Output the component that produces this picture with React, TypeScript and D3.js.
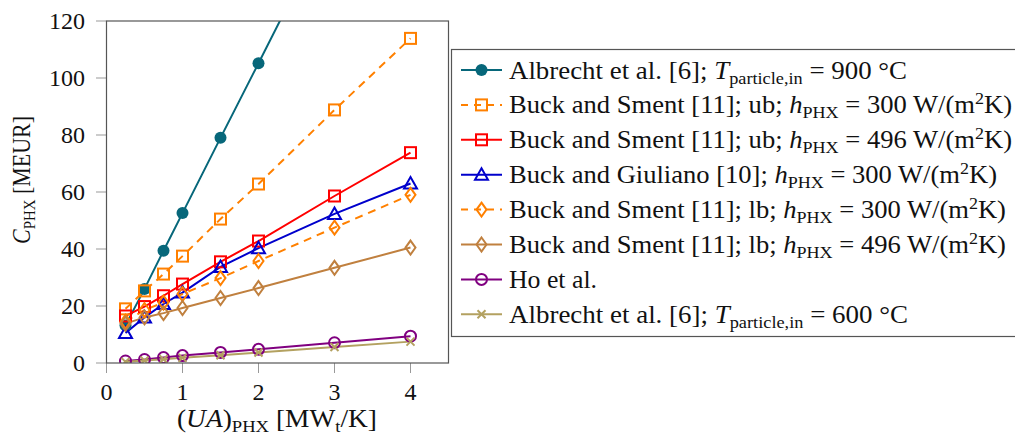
import React from 'react';
import * as d3 from 'd3';

// UA values (MW_t/K) shared by every series
const uaValues = [0.25, 0.5, 0.75, 1, 1.5, 2, 3, 4];

// cost of the PHX in MEUR
const albrecht900 = [13.2, 26, 39.4, 52.6, 79, 105.2, 157.8, 210.4];
const smentUb300 = [19, 25.3, 31.2, 37.5, 50.5, 62.8, 88.8, 113.9];
const smentUb496 = [16.5, 19.8, 23.6, 27.7, 35.5, 42.8, 58.6, 73.8];
const giuliano300 = [10.5, 16, 20.7, 24.7, 33.7, 40.3, 52.3, 63];
const smentLb300 = [14.5, 18.6, 21.2, 24.2, 29.8, 35.8, 47.5, 59];
const smentLb496 = [13.8, 16, 17.5, 19.3, 22.8, 26.3, 33.4, 40.5];
const hoEtAl = [0.7, 1.2, 1.9, 2.6, 3.7, 4.8, 7.1, 9.4];
const albrecht600 = [0.4, 0.9, 1.3, 1.8, 2.7, 3.7, 5.6, 7.5];

const xTicks = [0, 1, 2, 3, 4];
const yTicks = [0, 20, 40, 60, 80, 100, 120];

type Part = { t: string; it?: boolean; sub?: boolean; sup?: boolean };

const hLabel = (ref: string, val: string): Part[] => [
  { t: ref },
  { t: 'h', it: true },
  { t: 'PHX', sub: true },
  { t: ` = ${val} W/(m` },
  { t: '2', sup: true },
  { t: 'K)' },
];

const series = [
  { name: 'a900', values: albrecht900, color: '#07677a', dash: '', marker: 'dot',
    label: [{ t: 'Albrecht et al. [6]; ' }, { t: 'T', it: true }, { t: 'particle,in', sub: true }, { t: ' = 900 °C' }], len: 398 },
  { name: 'ub300', values: smentUb300, color: '#ff8000', dash: '8,6', marker: 'square',
    label: hLabel('Buck and Sment [11]; ub; ', '300'), len: 503 },
  { name: 'ub496', values: smentUb496, color: '#ff0000', dash: '', marker: 'square',
    label: hLabel('Buck and Sment [11]; ub; ', '496'), len: 503 },
  { name: 'g300', values: giuliano300, color: '#0000cc', dash: '', marker: 'triangle',
    label: hLabel('Buck and Giuliano [10]; ', '300'), len: 488 },
  { name: 'lb300', values: smentLb300, color: '#ff8000', dash: '8,6', marker: 'diamond',
    label: hLabel('Buck and Sment [11]; lb; ', '300'), len: 497 },
  { name: 'lb496', values: smentLb496, color: '#c0803f', dash: '', marker: 'diamond',
    label: hLabel('Buck and Sment [11]; lb; ', '496'), len: 497 },
  { name: 'ho', values: hoEtAl, color: '#800080', dash: '', marker: 'ocircle',
    label: [{ t: 'Ho et al.' }], len: 88 },
  { name: 'a600', values: albrecht600, color: '#b3a160', dash: '', marker: 'x',
    label: [{ t: 'Albrecht et al. [6]; ' }, { t: 'T', it: true }, { t: 'particle,in', sub: true }, { t: ' = 600 °C' }], len: 399 },
];

const Marker = ({ kind, x, y, color }: { kind: string; x: number; y: number; color: string }) => {
  const sw = 2;
  if (kind === 'dot') return <circle cx={x} cy={y} r={6} fill={color} />;
  if (kind === 'square')
    return <rect x={x - 5.5} y={y - 5.5} width={11} height={11} fill="none" stroke={color} strokeWidth={sw} />;
  if (kind === 'triangle')
    return <path d={`M${x},${y - 6.5}L${x + 6.5},${y + 5}L${x - 6.5},${y + 5}Z`} fill="none" stroke={color} strokeWidth={sw} />;
  if (kind === 'diamond')
    return <path d={`M${x},${y - 7}L${x + 5},${y}L${x},${y + 7}L${x - 5},${y}Z`} fill="none" stroke={color} strokeWidth={sw} />;
  if (kind === 'ocircle')
    return <circle cx={x} cy={y} r={5.5} fill="none" stroke={color} strokeWidth={sw} />;
  return (
    <path d={`M${x - 4},${y - 4}L${x + 4},${y + 4}M${x - 4},${y + 4}L${x + 4},${y - 4}`}
      stroke={color} strokeWidth={sw} />
  );
};

const RichText = ({ parts, size }: { parts: Part[]; size: number }) => {
  let shift = 0;
  return (
    <>
      {parts.map((p, i) => {
        const target = p.sub ? 5 : p.sup ? -9 : 0;
        const dy = target - shift;
        shift = target;
        return (
          <tspan key={i} dy={dy} fontStyle={p.it ? 'italic' : 'normal'}
            fontSize={p.sub || p.sup ? size * 0.68 : size}>
            {p.t}
          </tspan>
        );
      })}
    </>
  );
};

export default function App() {
  const width = 1015;
  const height = 437;
  const x = d3.scaleLinear().domain([0, 4.5]).range([106.5, 448.5]);
  const y = d3.scaleLinear().domain([0, 120]).range([363, 21]);

  const line = d3.line<number>()
    .x((_, i) => x(uaValues[i]))
    .y(d => y(d));

  const legendX = 451.5;
  const legendY = 49.5;
  const rowH = 34.9;

  return (
    <svg width={width} height={height} fontFamily="Liberation Serif" fill="#111"
      style={{ position: 'absolute', left: 0, top: 0, background: '#fff' }}>
      <defs>
        <clipPath id="plotClip">
          <rect x={106.5} y={21} width={342} height={342} />
        </clipPath>
      </defs>

      {/* ticks */}
      {xTicks.map(t => (
        <g key={'x' + t}>
          <line x1={x(t)} x2={x(t)} y1={363} y2={373} stroke="#999" strokeWidth={1} />
          <text x={x(t)} y={400} textAnchor="middle" fontSize={24}>{t}</text>
        </g>
      ))}
      {yTicks.map(t => (
        <g key={'y' + t}>
          <line x1={96} x2={106.5} y1={y(t)} y2={y(t)} stroke="#999" strokeWidth={1} />
          <text x={85} y={y(t) + 8} textAnchor="end" fontSize={24}>{t}</text>
        </g>
      ))}

      {/* series */}
      <g clipPath="url(#plotClip)">
        {series.map(s => (
          <path key={s.name} d={line(s.values) || ''} fill="none" stroke={s.color} strokeWidth={2}
            strokeDasharray={s.dash || undefined} />
        ))}
        {series.map(s => (
          <g key={s.name + 'm'}>
            {s.values.map((v, i) => (
              <Marker key={i} kind={s.marker} x={x(uaValues[i])} y={y(v)} color={s.color} />
            ))}
          </g>
        ))}
      </g>

      {/* frame */}
      <rect x={106.5} y={21} width={342} height={342} fill="none" stroke="#555" strokeWidth={1.2} />

      {/* axis labels */}
      <text x={277} y={427} textAnchor="middle" fontSize={25} textLength={200} lengthAdjust="spacingAndGlyphs">
        <RichText size={25} parts={[
          { t: '(' }, { t: 'UA', it: true }, { t: ')' }, { t: 'PHX', sub: true },
          { t: ' [MW' }, { t: 't', sub: true }, { t: '/K]' },
        ]} />
      </text>
      <text transform="translate(30,180) rotate(-90)" textAnchor="middle" fontSize={25}
        textLength={128} lengthAdjust="spacingAndGlyphs">
        <RichText size={25} parts={[{ t: 'C', it: true }, { t: 'PHX', sub: true }, { t: ' [MEUR]' }]} />
      </text>

      {/* legend */}
      <rect x={legendX} y={legendY} width={600} height={287} fill="#fff" stroke="#555" strokeWidth={1.2} />
      {series.map((s, i) => {
        const cy = 70 + i * rowH;
        return (
          <g key={s.name + 'l'}>
            <line x1={461} x2={502} y1={cy} y2={cy} stroke={s.color} strokeWidth={2}
              strokeDasharray={s.dash ? '7,6' : undefined} />
            <Marker kind={s.marker} x={481.5} y={cy} color={s.color} />
            <text x={509} y={cy + 8.5} fontSize={25.5} textLength={s.len} lengthAdjust="spacingAndGlyphs">
              <RichText size={25.5} parts={s.label} />
            </text>
          </g>
        );
      })}
    </svg>
  );
}
